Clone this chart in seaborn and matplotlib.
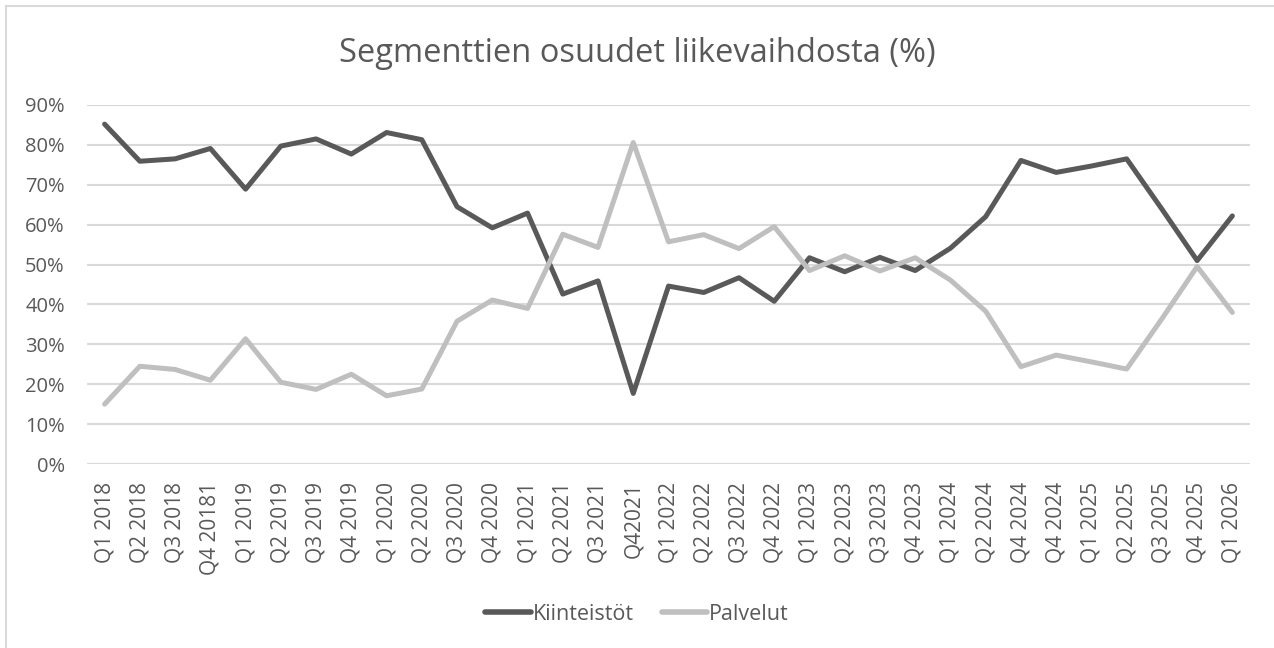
import pandas as pd
import matplotlib.pyplot as plt
import seaborn as sns
from matplotlib.patches import Rectangle

# Kvartaalit (tekstit kuten alkuperäisessä kuvassa)
kvartaalit = [
    "Q1 2018", "Q2 2018", "Q3 2018", "Q4 20181", "Q1 2019", "Q2 2019",
    "Q3 2019", "Q4 2019", "Q1 2020", "Q2 2020", "Q3 2020", "Q4 2020",
    "Q1 2021", "Q2 2021", "Q3 2021", "Q42021", "Q1 2022", "Q2 2022",
    "Q3 2022", "Q4 2022", "Q1 2023", "Q2 2023", "Q3 2023", "Q4 2023",
    "Q1 2024", "Q2 2024", "Q4 2024", "Q4 2024", "Q1 2025", "Q2 2025",
    "Q3 2025", "Q4 2025", "Q1 2026",
]

# Osuudet prosentteina
kiinteistot = [
    85.2, 75.9, 76.5, 79.1, 68.9, 79.7, 81.5, 77.7, 83.1, 81.3, 64.5, 59.2,
    62.9, 42.6, 45.9, 17.7, 44.6, 43.0, 46.7, 40.8, 51.7, 48.2, 51.8, 48.5,
    54.1, 62.0, 76.1, 73.1, 74.7, 76.5, 63.9, 51.0, 62.2,
]
palvelut = [
    15.0, 24.5, 23.7, 21.0, 31.4, 20.5, 18.7, 22.5, 17.1, 18.8, 35.8, 41.1,
    39.0, 57.6, 54.3, 80.6, 55.7, 57.5, 54.0, 59.5, 48.5, 52.2, 48.4, 51.7,
    46.1, 38.3, 24.4, 27.3, 25.6, 23.8, 36.4, 49.5, 38.0,
]

sarjat = ["Kiinteistöt", "Palvelut"]
varit = {"Kiinteistöt": "#595959", "Palvelut": "#BFBFBF"}

df = pd.DataFrame({
    "pos": list(range(len(kvartaalit))) * 2,
    "osuus": [v / 100 for v in kiinteistot + palvelut],
    "segmentti": [sarjat[0]] * len(kvartaalit) + [sarjat[1]] * len(kvartaalit),
})

sns.set_theme(style="white")
plt.rcParams["font.family"] = ["Open Sans", "DejaVu Sans"]
teksti = "#595959"

fig = plt.figure(figsize=(12.74, 6.48), dpi=100)
ax = fig.add_axes([87 / 1274, 1 - 464 / 648, (1250 - 87) / 1274, (464 - 105) / 648])

sns.lineplot(data=df, x="pos", y="osuus", hue="segmentti", hue_order=sarjat,
             palette=varit, linewidth=3.6, ax=ax, legend=False)

ax.set_xlim(-0.5, len(kvartaalit) - 0.5)
ax.set_ylim(0, 0.9)
ax.set_yticks([i / 10 for i in range(10)])
ax.set_yticklabels([f"{i * 10}%" for i in range(10)])
ax.set_xticks(range(len(kvartaalit)))
ax.set_xticklabels(kvartaalit, rotation=90)
ax.tick_params(axis="y", length=0, pad=16, labelsize=14.5, labelcolor=teksti)
ax.tick_params(axis="x", length=0, pad=13, labelsize=15, labelcolor=teksti)
ax.set_xlabel("")
ax.set_ylabel("")
ax.grid(axis="y", color="#D9D9D9", linewidth=1.5)
ax.grid(axis="x", visible=False)
for s in ax.spines.values():
    s.set_visible(False)
ax.set_axisbelow(True)

fig.text(0.5, 1 - 53 / 648, "Segmenttien osuudet liikevaihdosta (%)",
         ha="center", va="center", fontsize=23.5, color=teksti)

kahvat = [plt.Line2D([], [], color=varit[s], linewidth=4) for s in sarjat]
fig.legend(kahvat, sarjat, loc="center", bbox_to_anchor=(0.5, 1 - 614 / 648),
           ncol=2, frameon=False, fontsize=15.5, labelcolor=teksti,
           handlelength=2.1, handletextpad=0.1, columnspacing=1.3)

# kehys
fig.add_artist(Rectangle((6 / 1274, -0.1), 1.2, 1 - 6 / 648 + 0.1,
                         transform=fig.transFigure, fill=False,
                         edgecolor="#D9D9D9", linewidth=1.5))

fig.savefig("out.png", dpi=100)
